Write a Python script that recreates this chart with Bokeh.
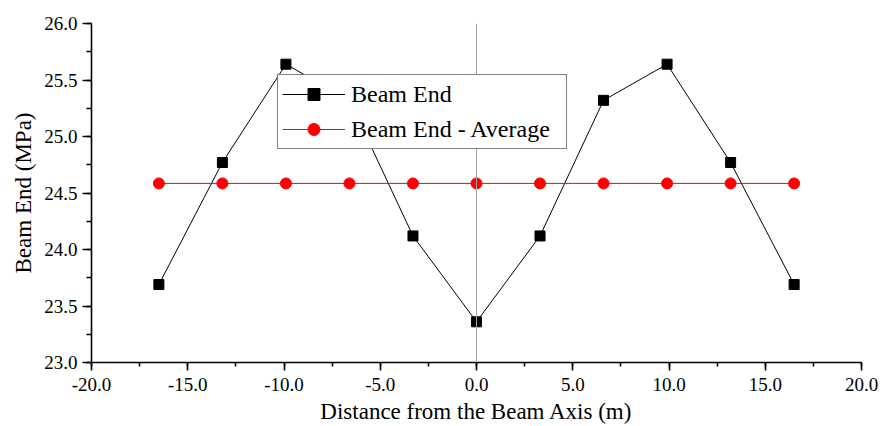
from bokeh.plotting import figure
from bokeh.models import (Range1d, SingleIntervalTicker, NumeralTickFormatter,
                          Span, Legend, LegendItem, ColumnDataSource)
from bokeh.embed import file_html
from bokeh.resources import INLINE

# Data
distance = [-16.5, -13.2, -9.9, -6.6, -3.3, 0.0, 3.3, 6.6, 9.9, 13.2, 16.5]
beam_end = [23.69, 24.77, 25.64, 25.32, 24.12, 23.36, 24.12, 25.32, 25.64, 24.77, 23.69]
beam_end_avg = [24.585] * len(distance)

x_label = "Distance from the Beam Axis (m)"
y_label = "Beam End (MPa)"
series_names = ["Beam End", "Beam End - Average"]

FONT = "Liberation Serif"

p = figure(frame_width=770, frame_height=339,
           x_range=Range1d(-20, 20), y_range=Range1d(23, 26),
           output_backend="svg", toolbar_location=None,
           min_border_left=91, min_border_top=23,
           min_border_right=22, min_border_bottom=62)
p.outline_line_color = None
p.xgrid.visible = False
p.ygrid.visible = False
p.background_fill_color = "white"

src = ColumnDataSource(dict(x=distance, y=beam_end, avg=beam_end_avg))

# zero reference line
zero = Span(location=0, dimension="height", line_color="#a6a6a6", line_width=1)
p.add_layout(zero)

r1l = p.line("x", "y", source=src, line_color="black", line_width=1)
r1m = p.scatter("x", "y", source=src, marker="square", size=10,
                fill_color="black", line_color="black")
r2l = p.line("x", "avg", source=src, line_color="#ff0000", line_width=1)
r2m = p.scatter("x", "avg", source=src, marker="circle", size=11,
                fill_color="#ff0000", line_color="#ff0000")

for ax in (p.xaxis[0], p.yaxis[0]):
    ax.axis_line_width = 1.6
    ax.axis_line_color = "black"
    ax.major_tick_line_width = 1.6
    ax.minor_tick_line_width = 1.6
    ax.major_tick_in = 0
    ax.minor_tick_in = 0
    ax.major_label_text_font = FONT
    ax.major_label_text_font_size = "19px"
    ax.major_label_text_color = "black"
    ax.axis_label_text_font = FONT
    ax.axis_label_text_font_size = "23px"
    ax.axis_label_text_font_style = "normal"
    ax.axis_label_text_color = "black"
    ax.formatter = NumeralTickFormatter(format="0.0")

p.xaxis[0].ticker = SingleIntervalTicker(interval=5, num_minor_ticks=2)
p.yaxis[0].ticker = SingleIntervalTicker(interval=0.5, num_minor_ticks=2)
p.xaxis[0].major_tick_out = 8
p.xaxis[0].minor_tick_out = 4
p.yaxis[0].major_tick_out = 9
p.yaxis[0].minor_tick_out = 5
p.xaxis[0].major_label_standoff = 7
p.yaxis[0].major_label_standoff = 5
p.xaxis[0].axis_label_standoff = 5
p.yaxis[0].axis_label_standoff = 5
p.xaxis[0].axis_label = x_label
p.yaxis[0].axis_label = y_label

legend = Legend(items=[LegendItem(label=series_names[0], renderers=[r1l, r1m]),
                       LegendItem(label=series_names[1], renderers=[r2l, r2m])],
                location=(186, 213),
                label_text_font=FONT, label_text_font_size="24px",
                label_text_color="black",
                glyph_width=63, glyph_height=30, label_height=30,
                label_width=211, label_standoff=6,
                spacing=5, padding=4, margin=0,
                border_line_color="black", border_line_width=1,
                background_fill_color="white", background_fill_alpha=1.0)
p.add_layout(legend, "center")

open("out.html", "w").write(file_html(p, INLINE))
